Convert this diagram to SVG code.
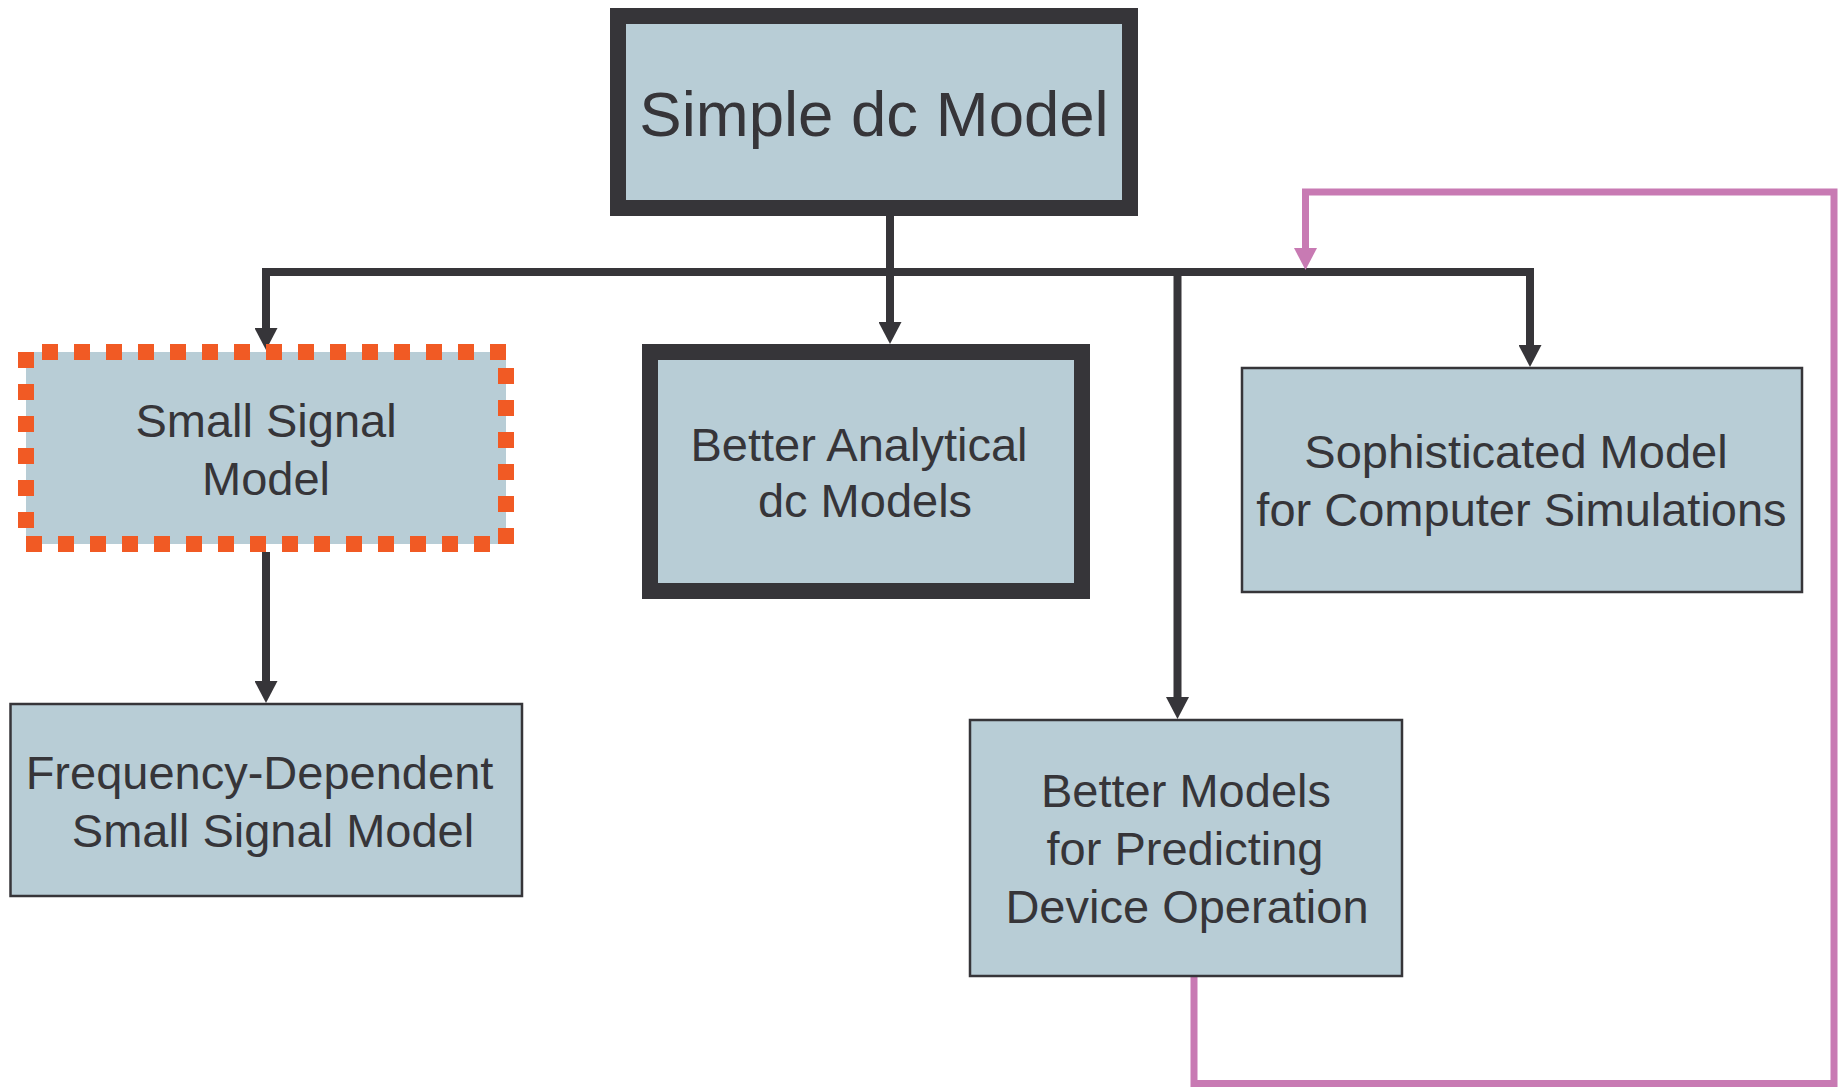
<svg xmlns="http://www.w3.org/2000/svg" width="1843" height="1087" viewBox="0 0 1843 1087">
<style>
.box{fill:#B8CDD6;stroke:#363539}
.thin{stroke-width:2.5}
.thick{stroke-width:16}
.dash{fill:#B8CDD6;stroke:#F15A24;stroke-width:16;stroke-dasharray:16 16;stroke-dashoffset:16}
.t{font-family:"Liberation Sans",Arial,sans-serif;font-size:47px;fill:#363539;text-anchor:middle}
.title{font-size:63.5px}
.con{fill:none;stroke:#363539;stroke-width:8}
.pink{fill:none;stroke:#C87AB3;stroke-width:7}
</style>
<defs>
<marker id="ah" markerUnits="userSpaceOnUse" markerWidth="23" markerHeight="23" refX="10" refY="11.5" orient="auto">
<path d="M0,0 L22,11.5 L0,23 Z" fill="#363539"/>
</marker>
<marker id="ahp" markerUnits="userSpaceOnUse" markerWidth="23" markerHeight="23" refX="10" refY="11.5" orient="auto">
<path d="M0,0 L22,11.5 L0,23 Z" fill="#C87AB3"/>
</marker>
</defs>
<g id="connectors">
<path class="con" d="M890 216 V332" marker-end="url(#ah)"/>
<path class="con" d="M262 272 H1534"/>
<path class="con" d="M266 268 V338" marker-end="url(#ah)"/>
<path class="con" d="M1530 268 V355" marker-end="url(#ah)"/>
<path class="con" d="M1177.5 272 V707" marker-end="url(#ah)"/>
<path class="con" d="M266 552 V691" marker-end="url(#ah)"/>
<path class="pink" d="M1194 976 V1083.5 H1834 V192 H1305.5 V258" marker-end="url(#ahp)"/>
</g>
<g id="simple-dc-model">
<rect class="box thick" x="618" y="16" width="512" height="192"/>
<text class="t title" x="874" y="136">Simple dc Model</text>
</g>
<g id="small-signal-model">
<rect class="dash" x="26" y="352" width="480" height="192"/>
<text class="t" x="266" y="437">Small Signal</text>
<text class="t" x="266" y="495">Model</text>
</g>
<g id="better-analytical-dc-models">
<rect class="box thick" x="650" y="352" width="432" height="239"/>
<text class="t" x="859" y="461">Better Analytical</text>
<text class="t" x="865" y="517">dc Models</text>
</g>
<g id="sophisticated-model">
<rect class="box thin" x="1242" y="368" width="560" height="224"/>
<text class="t" x="1516" y="468">Sophisticated Model</text>
<text class="t" x="1521.5" y="526">for Computer Simulations</text>
</g>
<g id="frequency-dependent-model">
<rect class="box thin" x="10.5" y="704" width="511.5" height="192"/>
<text class="t" x="259.5" y="789">Frequency-Dependent</text>
<text class="t" x="273" y="847">Small Signal Model</text>
</g>
<g id="better-models-device-operation">
<rect class="box thin" x="970" y="720" width="432" height="256"/>
<text class="t" x="1186" y="807">Better Models</text>
<text class="t" x="1185" y="865">for Predicting</text>
<text class="t" x="1187" y="923">Device Operation</text>
</g>
</svg>
